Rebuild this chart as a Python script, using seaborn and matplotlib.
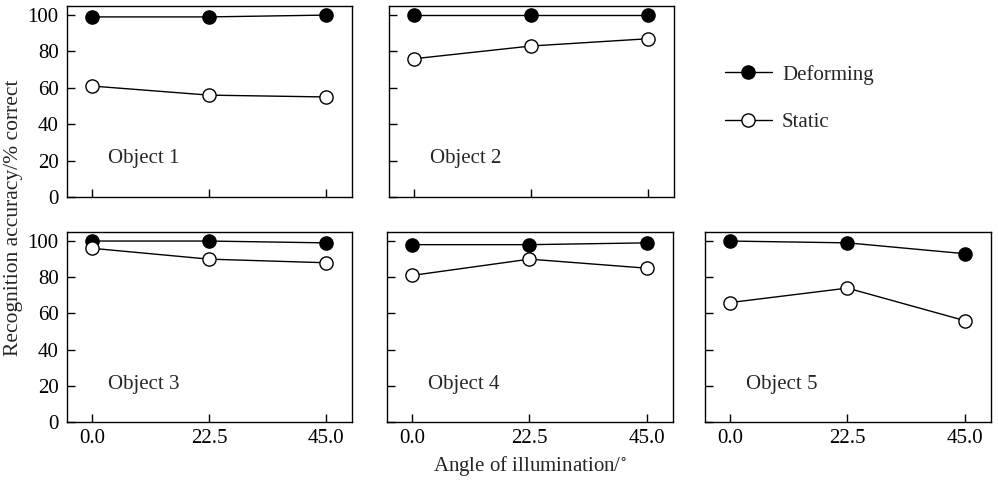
import pandas as pd
import matplotlib
matplotlib.use("Agg")
import matplotlib.pyplot as plt
import seaborn as sns
from matplotlib.lines import Line2D

# data
angles = [0.0, 22.5, 45.0]
objects = ["Object 1", "Object 2", "Object 3", "Object 4", "Object 5"]
deforming = [
    [99, 99, 100],
    [100, 100, 100],
    [100, 100, 99],
    [98, 98, 99],
    [100, 99, 93],
]
static = [
    [61, 56, 55],
    [76, 83, 87],
    [96, 90, 88],
    [81, 90, 85],
    [66, 74, 56],
]

sns.set_style("ticks")
plt.rcParams['font.family'] = ['Liberation Serif', 'DejaVu Serif']
plt.rcParams['font.size'] = 15
plt.rcParams['mathtext.fontset'] = 'stix'

fig = plt.figure(figsize=(9.98, 4.8), dpi=100)

W, H = 998, 480
# panel boxes in pixels (left, top, right, bottom)
boxes = [
    (67, 6, 352, 197),
    (389, 6, 674, 197),
    (67, 232, 352, 422),
    (387, 232, 673, 422),
    (705, 232, 991, 422),
]

for i, (l, t, r, b) in enumerate(boxes):
    ax = fig.add_axes([l / W, 1 - b / H, (r - l) / W, (b - t) / H])
    df = pd.DataFrame({"angle": angles, "Deforming": deforming[i], "Static": static[i]})
    sns.lineplot(data=df, x="angle", y="Deforming", ax=ax, color="black", lw=1,
                 marker="o", markersize=9.5, markerfacecolor="black",
                 markeredgecolor="black", markeredgewidth=1)
    sns.lineplot(data=df, x="angle", y="Static", ax=ax, color="black", lw=1,
                 marker="o", markersize=9.5, markerfacecolor="white",
                 markeredgecolor="black", markeredgewidth=1)
    ax.set_xlim(-4.8, 50)
    ax.set_ylim(0, 105)
    ax.set_xticks(angles)
    ax.set_yticks([0, 20, 40, 60, 80, 100])
    ax.tick_params(direction="in", length=6, width=1, colors="black")
    ax.tick_params(axis="y", pad=6)
    ax.tick_params(axis="x", pad=5)
    ax.set_xlabel("")
    ax.set_ylabel("")
    for sp in ax.spines.values():
        sp.set_color("black")
        sp.set_linewidth(1)
    if i in (0, 2):
        ax.set_yticklabels(["0", "20", "40", "60", "80", "100"])
    else:
        ax.set_yticklabels([])
    if i < 2:
        ax.set_xticklabels([])
    else:
        ax.set_xticklabels(["0.0", "22.5", "45.0"])
    ax.text(3, 21, objects[i], va="center", ha="left")

handles = [
    Line2D([], [], color="black", lw=1, marker="o", markersize=9.5,
           markerfacecolor="black", markeredgecolor="black"),
    Line2D([], [], color="black", lw=1, marker="o", markersize=9.5,
           markerfacecolor="white", markeredgecolor="black"),
]
fig.legend(handles, ["Deforming", "Static"], loc="upper left",
           bbox_to_anchor=(706 / W, 1 - 46 / H), frameon=False,
           handlelength=2.25, handletextpad=0.5, labelspacing=1.35)

fig.text(14 / W, 1 - 218 / H, "Recognition accuracy/% correct", rotation=90,
         ha="center", va="center", fontsize=15.5)
fig.text(530 / W, 1 - 466 / H, r"Angle of illumination/$^{\circ}$",
         ha="center", va="center")

fig.savefig("out.png", dpi=100)
